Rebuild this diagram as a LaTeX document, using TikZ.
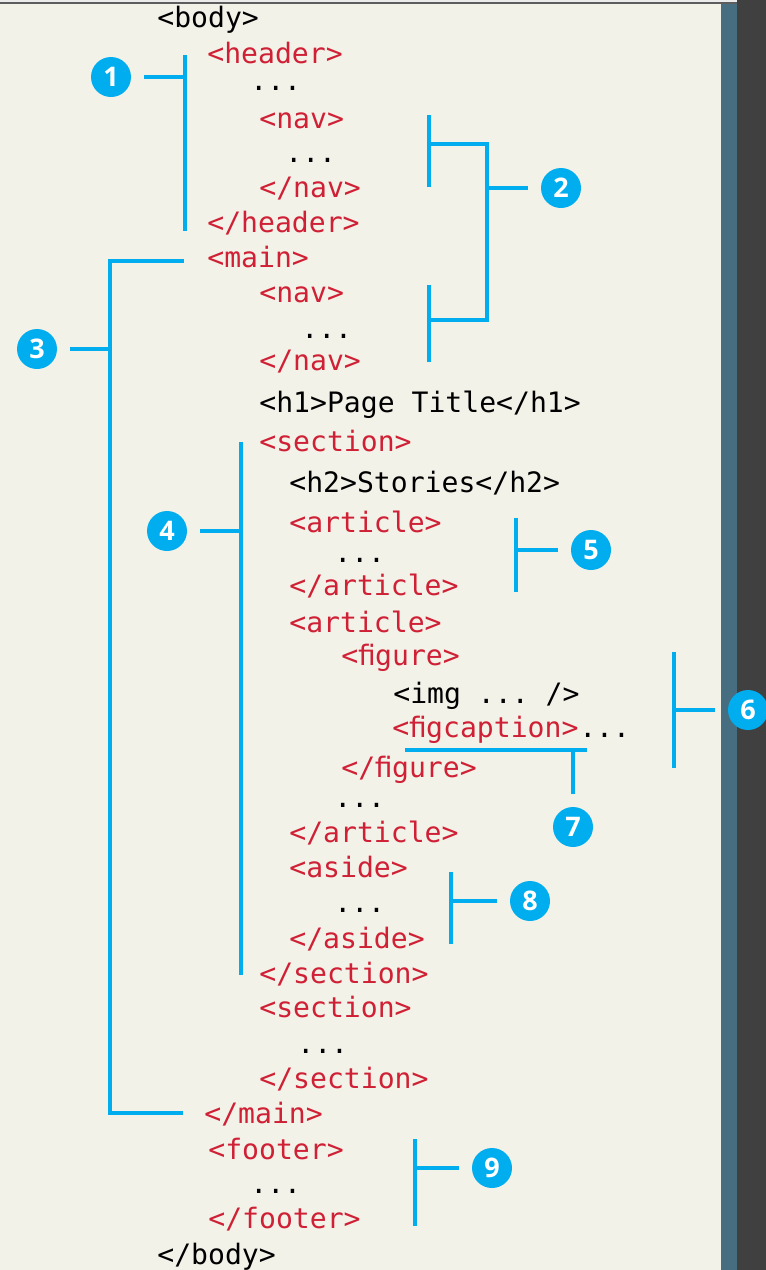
\documentclass[tikz,border=0pt]{standalone}
\usepackage{fontspec}
\setmonofont{DejaVu Sans Mono}
\newfontfamily\badgefont{Open Sans}

\definecolor{paper}{HTML}{F3F2E8}
\definecolor{tagred}{HTML}{CF2035}
\definecolor{cyanline}{HTML}{00AEEF}
\definecolor{sidebar}{HTML}{466E80}
\definecolor{frame}{HTML}{404040}

\tikzstyle{code} = [anchor=base west, inner sep=0pt, font=\ttfamily\fontsize{14.05}{14}\selectfont]
\tikzstyle{tag} = [code, text=tagred]
\tikzstyle{plain} = [code, text=black]
\tikzstyle{badge} = [circle, fill=cyanline, text=white, minimum size=20pt, inner sep=0pt, font=\badgefont\bfseries\fontsize{13.5}{13}\selectfont]
\tikzstyle{bracket} = [draw=cyanline, line width=1.6pt]
\tikzstyle{lead} = [bracket, shorten <=6.5pt]

\begin{document}
\begin{tikzpicture}[x=0.5pt, y=-0.5pt]
        \useasboundingbox (0,0) rectangle (766,1270);
        % page and editor frame
        \fill[paper] (0,0) rectangle (766,1270);
        \fill[sidebar] (721,0) rectangle (737,1270);
        \fill[frame] (737,0) rectangle (766,1270);
        \fill[black!8] (0,0) rectangle (737,2);
        \draw[frame!85, line width=0.8pt] (0,3) -- (737,3);

        % markup
        \node[plain] (bodyopen) at (157,27) {<body>};
        \node[tag] (headeropen) at (207,63) {<header>};
        \node[plain] (headerdots) at (250,90) {...};
        \node[tag] (navopen) at (259,128) {<nav>};
        \node[plain] (navdots) at (285,162) {...};
        \node[tag] (navclose) at (259,197) {</nav>};
        \node[tag] (headerclose) at (207,232) {</header>};
        \node[tag] (mainopen) at (207,267) {<main>};
        \node[tag] (mnavopen) at (259,302) {<nav>};
        \node[plain] (mnavdots) at (301,338) {...};
        \node[tag] (mnavclose) at (259,370) {</nav>};
        \node[plain] (h1) at (259,412) {<h1>Page Title</h1>};
        \node[tag] (secopen) at (259,451) {<section>};
        \node[plain] (h2) at (289,492) {<h2>Stories</h2>};
        \node[tag] (artopen) at (289,532) {<article>};
        \node[plain] (artdots) at (334,562) {...};
        \node[tag] (artclose) at (289,595) {</article>};
        \node[tag] (art2open) at (289,632) {<article>};
        \node[tag] (figopen) at (341,665) {<ﬁgure>};
        \node[plain] (img) at (393,703) {<img ... />};
        \node[tag] (figcap) at (392,737) {<ﬁgcaption>};
        \node[plain] (figcapdots) at (figcap.base east) {...};
        \node[tag] (figclose) at (341,777) {</ﬁgure>};
        \node[plain] (art2dots) at (334,807) {...};
        \node[tag] (art2close) at (289,842) {</article>};
        \node[tag] (asideopen) at (289,877) {<aside>};
        \node[plain] (asidedots) at (334,912) {...};
        \node[tag] (asideclose) at (289,948) {</aside>};
        \node[tag] (secclose) at (259,983) {</section>};
        \node[tag] (sec2open) at (259,1017) {<section>};
        \node[plain] (sec2dots) at (297,1053) {...};
        \node[tag] (sec2close) at (259,1088) {</section>};
        \node[tag] (mainclose) at (204,1123) {</main>};
        \node[tag] (footopen) at (208,1159) {<footer>};
        \node[plain] (footdots) at (250,1193) {...};
        \node[tag] (footclose) at (208,1228) {</footer>};
        \node[plain] (bodyclose) at (157,1264) {</body>};

        % brackets
        \draw[bracket] (185,55) -- (185,231);
        \draw[bracket] (429,115) -- (429,187);
        \draw[bracket] (429,285) -- (429,362);
        \draw[bracket] (429,144) -| (487,320) -- (429,320);
        \draw[bracket] (184,261) -| (110,1113) -- (183,1113);
        \draw[bracket] (241,442) -- (241,975);
        \draw[bracket] (516,518) -- (516,592);
        \draw[bracket] (674,652) -- (674,768);
        \draw[bracket] (405,750) -- (587,750);
        \draw[bracket] (451,872) -- (451,944);
        \draw[bracket] (415,1139) -- (415,1226);

        \coordinate (b1) at (185,77);
        \coordinate (b2) at (487,188);
        \coordinate (b3) at (110,349);
        \coordinate (b4) at (241,531);
        \coordinate (b5) at (516,550);
        \coordinate (b6) at (674,710);
        \coordinate (b7) at (573,750);
        \coordinate (b8) at (451,901);
        \coordinate (b9) at (415,1168);

        % numbered badges
        \node[badge] (c1) at (111,77) {1};
        \node[badge] (c2) at (561,188) {2};
        \node[badge] (c3) at (37,349) {3};
        \node[badge] (c4) at (167,531) {4};
        \node[badge] (c5) at (591,550) {5};
        \node[badge] (c6) at (748,710) {6};
        \node[badge] (c7) at (573,827) {7};
        \node[badge] (c8) at (530,901) {8};
        \node[badge] (c9) at (492,1168) {9};

        \foreach \n in {1,...,9}
            \draw[lead] (c\n) -- (b\n);
    \end{tikzpicture}
\end{document}
